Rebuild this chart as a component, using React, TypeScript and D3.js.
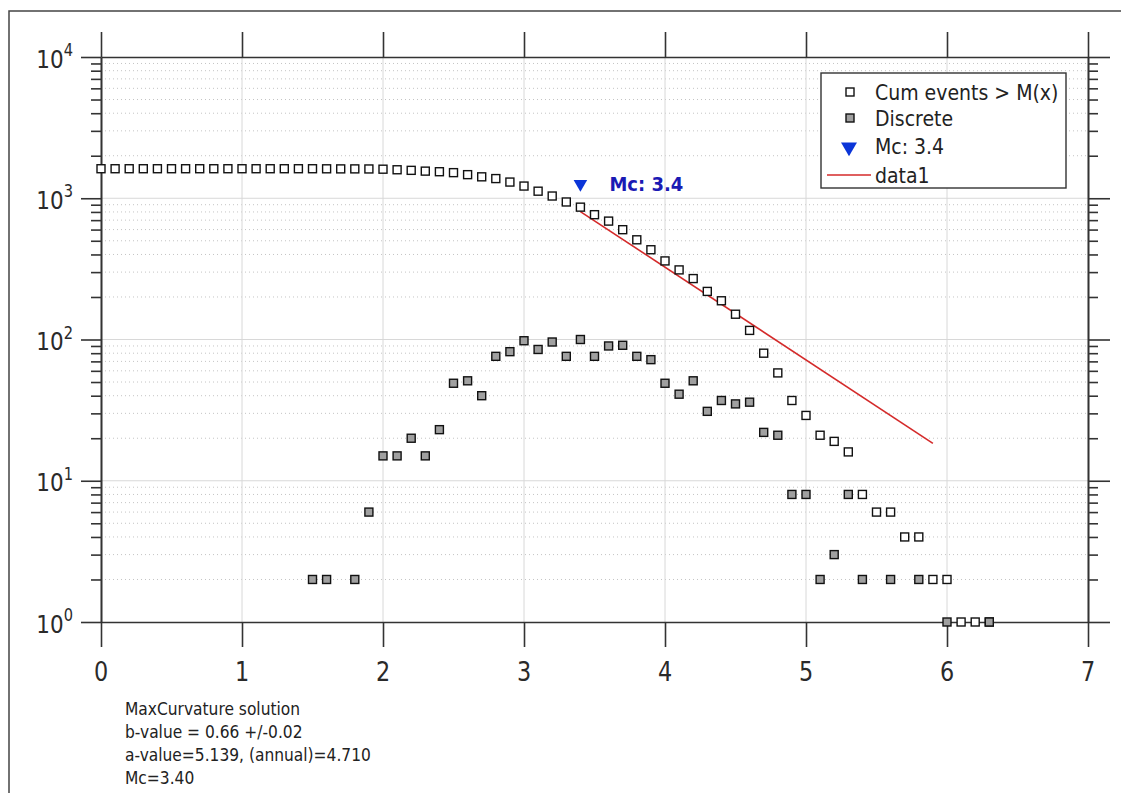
import React, { useRef, useEffect } from 'react';
import * as d3 from 'd3';

// cumulative number of events with magnitude >= M
const cumMags = [
  0.0, 0.1, 0.2, 0.3, 0.4, 0.5, 0.6, 0.7, 0.8, 0.9,
  1.0, 1.1, 1.2, 1.3, 1.4, 1.5, 1.6, 1.7, 1.8, 1.9,
  2.0, 2.1, 2.2, 2.3, 2.4, 2.5, 2.6, 2.7, 2.8, 2.9,
  3.0, 3.1, 3.2, 3.3, 3.4, 3.5, 3.6, 3.7, 3.8, 3.9,
  4.0, 4.1, 4.2, 4.3, 4.4, 4.5, 4.6, 4.7, 4.8, 4.9,
  5.0, 5.1, 5.2, 5.3, 5.4, 5.5, 5.6, 5.7, 5.8, 5.9,
  6.0, 6.1, 6.2, 6.3,
];
const cumCounts = [
  1618, 1618, 1618, 1618, 1618, 1618, 1618, 1618, 1618, 1618,
  1618, 1618, 1618, 1618, 1618, 1618, 1616, 1614, 1614, 1612,
  1606, 1591, 1576, 1556, 1541, 1518, 1469, 1418, 1378, 1302,
  1220, 1122, 1037, 941, 865, 765, 689, 599, 508, 432,
  360, 311, 270, 219, 188, 151, 116, 80, 58, 37,
  29, 21, 19, 16, 8, 6, 6, 4, 4, 2,
  2, 1, 1, 1,
];

// events per 0.1 magnitude bin (non-empty bins only)
const discMags = [
  1.5, 1.6, 1.8, 1.9,
  2.0, 2.1, 2.2, 2.3, 2.4, 2.5, 2.6, 2.7, 2.8, 2.9,
  3.0, 3.1, 3.2, 3.3, 3.4, 3.5, 3.6, 3.7, 3.8, 3.9,
  4.0, 4.1, 4.2, 4.3, 4.4, 4.5, 4.6, 4.7, 4.8, 4.9,
  5.0, 5.1, 5.2, 5.3, 5.4, 5.6, 5.8, 6.0, 6.3,
];
const discCounts = [
  2, 2, 2, 6,
  15, 15, 20, 15, 23, 49, 51, 40, 76, 82,
  98, 85, 96, 76, 100, 76, 90, 91, 76, 72,
  49, 41, 51, 31, 37, 35, 36, 22, 21, 8,
  8, 2, 3, 8, 2, 2, 2, 1, 1,
];

// G-R fit line
const fitMags = [3.4, 5.9];
const fitCounts = [805, 18.4];

const mcMag = 3.4;
const mcMarkerCount = 1265;
const mcLabel = 'Mc: 3.4';

const xTicks = [0, 1, 2, 3, 4, 5, 6, 7];
const yExponents = [0, 1, 2, 3, 4];
const legendLabels = ['Cum events > M(x)', 'Discrete', 'Mc: 3.4', 'data1'];
const infoLines = [
  'MaxCurvature solution',
  'b-value = 0.66 +/-0.02',
  'a-value=5.139, (annual)=4.710',
  'Mc=3.40',
];

const W = 1121;
const H = 793;
const FONT = 'DejaVu Sans';
const SX = 0.86; // text in the original is horizontally squeezed
const AXIS = '#333';

export default function App() {
  const ref = useRef<SVGSVGElement>(null);

  useEffect(() => {
    const svg = d3.select(ref.current);
    svg.selectAll('*').remove();

    const box = { left: 101, right: 1088, top: 57, bottom: 622 };
    const x = d3.scaleLinear().domain([0, 7]).range([box.left, box.right]);
    const y = d3.scaleLog().domain([1, 1e4]).range([box.bottom, box.top]);

    const majorY = yExponents.map(e => Math.pow(10, e));
    const minorY: number[] = [];
    yExponents.slice(0, -1).forEach(e => {
      for (let k = 2; k <= 9; k++) minorY.push(k * Math.pow(10, e));
    });

    const squeezedText = (
      parent: any, tx: number, ty: number, txt: string,
      size: number, anchor = 'start', fill = '#222', weight = 'normal', sx = SX
    ) =>
      parent.append('text')
        .attr('transform', `translate(${tx},${ty}) scale(${sx},1)`)
        .attr('font-family', FONT)
        .attr('font-size', size)
        .attr('font-weight', weight)
        .attr('text-anchor', anchor)
        .attr('fill', fill)
        .text(txt);

    // outer figure frame (right and bottom edges fall outside the picture)
    svg.append('rect')
      .attr('x', 9).attr('y', 11)
      .attr('width', 1200).attr('height', 900)
      .attr('fill', 'white')
      .attr('stroke', '#444').attr('stroke-width', 1.5);

    // grid
    const grid = svg.append('g');
    grid.selectAll('line.minor')
      .data(minorY)
      .enter().append('line')
      .attr('x1', box.left).attr('x2', box.right)
      .attr('y1', d => y(d)).attr('y2', d => y(d))
      .attr('stroke', '#c4c4c4').attr('stroke-width', 1)
      .attr('stroke-dasharray', '1,3');
    grid.selectAll('line.majy')
      .data(majorY.slice(1, -1))
      .enter().append('line')
      .attr('x1', box.left).attr('x2', box.right)
      .attr('y1', d => y(d)).attr('y2', d => y(d))
      .attr('stroke', '#d8d8d8').attr('stroke-width', 1);
    grid.selectAll('line.majx')
      .data(xTicks.slice(1, -1))
      .enter().append('line')
      .attr('x1', d => x(d)).attr('x2', d => x(d))
      .attr('y1', box.top).attr('y2', box.bottom)
      .attr('stroke', '#d8d8d8').attr('stroke-width', 1);

    // axes (ticks outward on all four sides)
    const styleAxis = (g: any) => {
      g.selectAll('path').attr('stroke', AXIS).attr('stroke-width', 1.6);
      g.selectAll('line').attr('stroke', AXIS).attr('stroke-width', 1.6);
      g.selectAll('text').remove();
    };
    svg.append('g')
      .attr('transform', `translate(0,${box.bottom})`)
      .call(d3.axisBottom(x).tickValues(xTicks).tickSizeInner(25).tickSizeOuter(0))
      .call(styleAxis);
    svg.append('g')
      .attr('transform', `translate(0,${box.top})`)
      .call(d3.axisTop(x).tickValues(xTicks).tickSizeInner(25).tickSizeOuter(0))
      .call(styleAxis);
    svg.append('g')
      .attr('transform', `translate(${box.left},0)`)
      .call(d3.axisLeft(y).tickValues(majorY).tickSizeInner(20).tickSizeOuter(0))
      .call(styleAxis);
    svg.append('g')
      .attr('transform', `translate(${box.left},0)`)
      .call(d3.axisLeft(y).tickValues(minorY).tickSizeInner(10).tickSizeOuter(0))
      .call(styleAxis);
    svg.append('g')
      .attr('transform', `translate(${box.right},0)`)
      .call(d3.axisRight(y).tickValues(majorY).tickSizeInner(22).tickSizeOuter(0))
      .call(styleAxis);
    svg.append('g')
      .attr('transform', `translate(${box.right},0)`)
      .call(d3.axisRight(y).tickValues(minorY).tickSizeInner(10).tickSizeOuter(0))
      .call(styleAxis);

    // tick labels
    xTicks.forEach(t => {
      squeezedText(svg, x(t), 681, String(t), 26, 'middle', '#2a2a2a');
    });
    yExponents.forEach(e => {
      const tEl = svg.append('text')
        .attr('transform', `translate(73,${y(Math.pow(10, e)) + 10.5}) scale(${SX},1)`)
        .attr('font-family', FONT)
        .attr('text-anchor', 'end')
        .attr('fill', '#2a2a2a');
      tEl.append('tspan').attr('font-size', 25).text('10');
      tEl.append('tspan').attr('font-size', 17).attr('dy', -11.5).text(String(e));
    });

    // fit line
    const fit = fitMags.map((m, i) => [m, fitCounts[i]] as [number, number]);
    svg.append('path')
      .attr('d', d3.line<[number, number]>().x(d => x(d[0])).y(d => y(d[1]))(fit))
      .attr('fill', 'none')
      .attr('stroke', '#d42a2a')
      .attr('stroke-width', 1.6);

    // markers
    const sq = 8;
    svg.append('g').selectAll('rect')
      .data(cumMags.map((m, i) => [m, cumCounts[i]]))
      .enter().append('rect')
      .attr('x', d => x(d[0]) - sq / 2)
      .attr('y', d => y(d[1]) - sq / 2)
      .attr('width', sq).attr('height', sq)
      .attr('fill', 'white')
      .attr('stroke', '#111').attr('stroke-width', 1.4);
    svg.append('g').selectAll('rect')
      .data(discMags.map((m, i) => [m, discCounts[i]]))
      .enter().append('rect')
      .attr('x', d => x(d[0]) - sq / 2)
      .attr('y', d => y(d[1]) - sq / 2)
      .attr('width', sq).attr('height', sq)
      .attr('fill', '#a0a0a0')
      .attr('stroke', '#111').attr('stroke-width', 1.4);

    // Mc marker + annotation
    const tri = d3.symbol().type(d3.symbolTriangle).size(80);
    const mx = x(mcMag);
    const my = y(mcMarkerCount);
    svg.append('path')
      .attr('d', tri())
      .attr('transform', `translate(${mx},${my}) rotate(180)`)
      .attr('fill', '#0b35d8');
    squeezedText(svg, mx + 29, my + 7, mcLabel, 20, 'start', '#1a1ab4', 'bold', 0.9);

    // legend
    const lg = svg.append('g');
    lg.append('rect')
      .attr('x', 821).attr('y', 73)
      .attr('width', 245).attr('height', 115)
      .attr('fill', 'white')
      .attr('stroke', AXIS).attr('stroke-width', 1.4);
    const rowY = [100, 126, 154, 183];
    legendLabels.forEach((lab, i) => {
      squeezedText(lg, 875, rowY[i], lab, 22, 'start', '#222');
    });
    lg.append('rect')
      .attr('x', 850 - sq / 2).attr('y', rowY[0] - 8 - sq / 2)
      .attr('width', sq).attr('height', sq)
      .attr('fill', 'white').attr('stroke', '#111').attr('stroke-width', 1.4);
    lg.append('rect')
      .attr('x', 850 - sq / 2).attr('y', rowY[1] - 8 - sq / 2)
      .attr('width', sq).attr('height', sq)
      .attr('fill', '#a0a0a0').attr('stroke', '#111').attr('stroke-width', 1.4);
    lg.append('path')
      .attr('d', d3.symbol().type(d3.symbolTriangle).size(110)())
      .attr('transform', `translate(849,${rowY[2] - 7}) rotate(180)`)
      .attr('fill', '#0b35d8');
    lg.append('line')
      .attr('x1', 827).attr('x2', 871)
      .attr('y1', rowY[3] - 8).attr('y2', rowY[3] - 8)
      .attr('stroke', '#d42a2a').attr('stroke-width', 1.6);

    // solution text
    infoLines.forEach((line, i) => {
      squeezedText(svg, 125, 715 + i * 23, line, 18, 'start', '#222');
    });
  }, []);

  return (
    <svg
      ref={ref}
      width={W}
      height={H}
      style={{ position: 'absolute', left: 0, top: 0, background: 'white' }}
    />
  );
}
